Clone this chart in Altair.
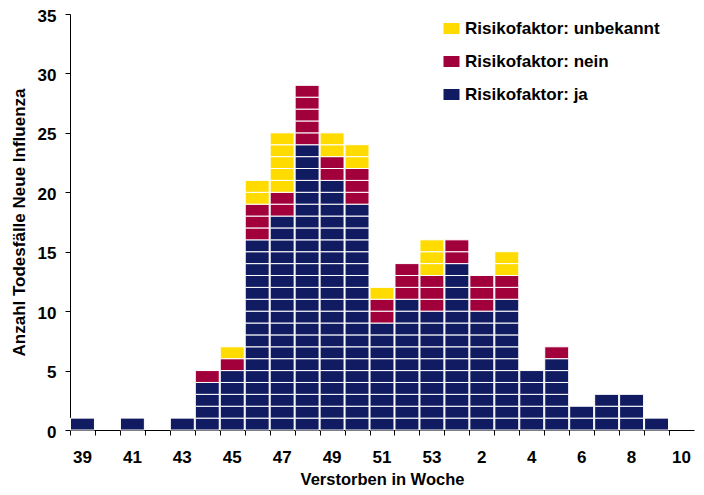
import altair as alt
import pandas as pd

weeks = ["39", "40", "41", "42", "43", "44", "45", "46", "47", "48", "49", "50",
         "51", "52", "53", "1", "2", "3", "4", "5", "6", "7", "8", "9", "10"]
ja = [1, 0, 1, 0, 1, 4, 5, 16, 18, 24, 21, 19, 9, 11, 10, 14, 10, 11, 5, 6, 2, 3, 3, 1, 0]
nein = [0, 0, 0, 0, 0, 1, 1, 3, 2, 5, 2, 3, 2, 3, 3, 2, 3, 2, 0, 1, 0, 0, 0, 0, 0]
unbekannt = [0, 0, 0, 0, 0, 0, 1, 2, 5, 0, 2, 2, 1, 0, 3, 0, 0, 2, 0, 0, 0, 0, 0, 0, 0]
tick_labels = ["39", "41", "43", "45", "47", "49", "51", "53", "2", "4", "6", "8", "10"]

cat_names = ["Risikofaktor: ja", "Risikofaktor: nein", "Risikofaktor: unbekannt"]
cat_colors = ["#101B61", "#A1003B", "#FFDB00"]
series = [ja, nein, unbekannt]

rows = []
for wi, w in enumerate(weeks):
    for ci, vals in enumerate(series):
        for k in range(vals[wi]):
            rows.append({"Woche": w, "Risikofaktor": cat_names[ci],
                         "ord": ci * 100 + k, "n": 1})
df = pd.DataFrame(rows)

label_list = "[" + ",".join("'" + t + "'" for t in tick_labels) + "]"

chart = alt.Chart(df).mark_bar(stroke="white", strokeWidth=1).encode(
    x=alt.X("Woche:O", sort=weeks,
            scale=alt.Scale(domain=weeks, paddingInner=0.04, paddingOuter=0.02),
            axis=alt.Axis(title="Verstorben in Woche", labelAngle=0,
                          bandPosition=0,
                          labelExpr="indexof(" + label_list + ", datum.label) >= 0 ? datum.label : ''",
                          tickSize=5, labelPadding=14, titlePadding=6,
                          titleFontSize=16.5)),
    y=alt.Y("n:Q", stack="zero",
            scale=alt.Scale(domain=[0, 35], nice=False),
            axis=alt.Axis(title="Anzahl Todesfälle Neue Influenza",
                          values=[0, 5, 10, 15, 20, 25, 30, 35],
                          tickSize=5, labelPadding=9, titlePadding=9, grid=False,
                          labelOffset=2, titleFontSize=17)),
    color=alt.Color("Risikofaktor:N",
                    scale=alt.Scale(domain=cat_names[::-1], range=cat_colors[::-1]),
                    legend=alt.Legend(title=None, orient="none", legendX=373, legendY=6,
                                      symbolType="M-1,-0.6875H1V0.6875H-1Z",
                                      symbolSize=256, symbolStrokeWidth=0,
                                      labelFontSize=17, labelFontWeight="bold",
                                      labelColor="black", labelOffset=5,
                                      labelLimit=300,
                                      rowPadding=15, padding=0,
                                      labelFont="Liberation Sans")),
    order=alt.Order("ord:Q", sort="ascending"),
).properties(
    width=624, height=416,
    autosize=alt.AutoSizeParams(type="none"),
    padding={"left": 62, "top": 6, "right": 2, "bottom": 57},
).configure_view(stroke=None).configure_axis(
    labelFont="Liberation Sans", titleFont="Liberation Sans",
    labelFontSize=17, labelFontWeight="bold", labelColor="black",
    titleFontWeight="bold", titleColor="black",
    domainColor="black", tickColor="black", domainWidth=1, tickWidth=1,
)

chart.save("out.html", embed_options={"renderer": "svg", "actions": False})
